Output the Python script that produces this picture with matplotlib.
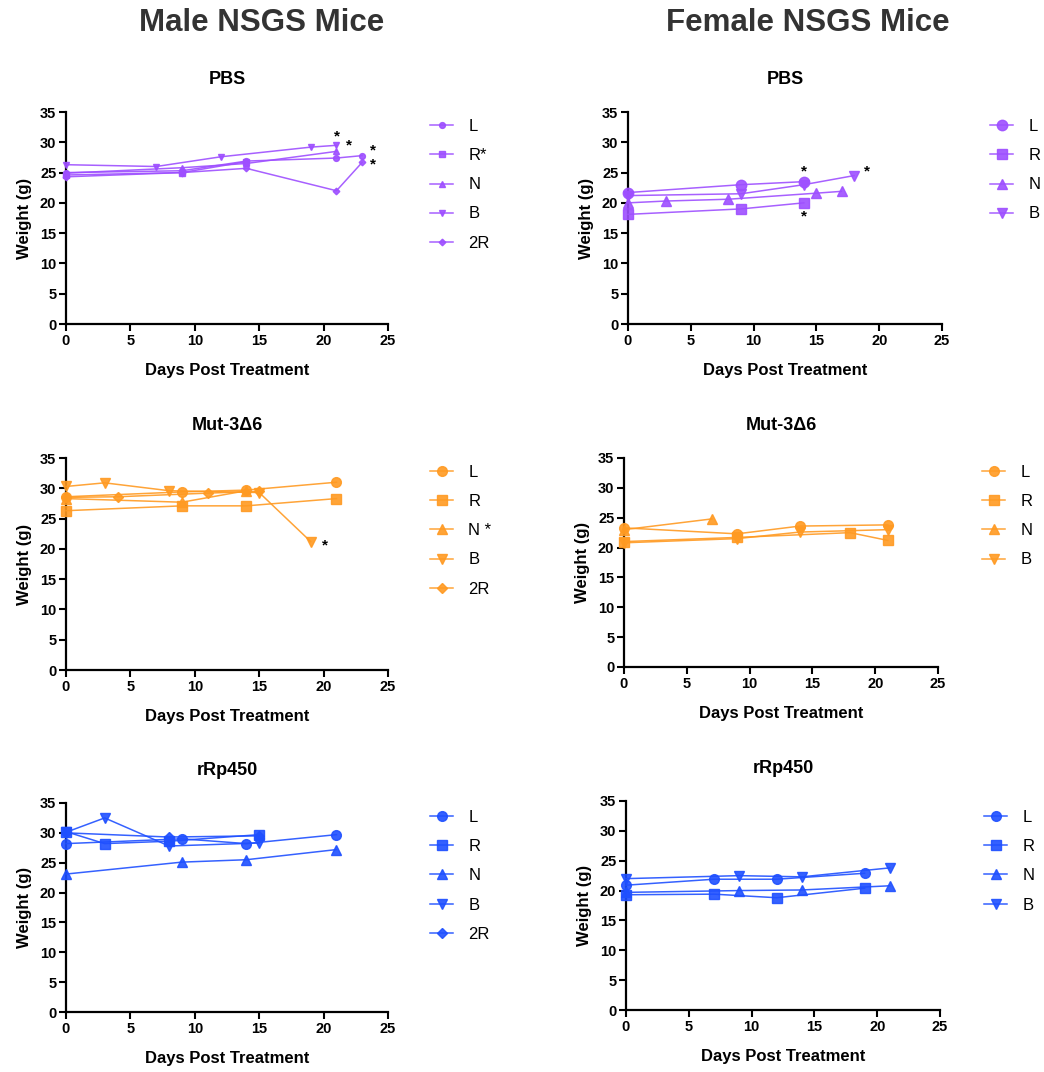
import matplotlib
matplotlib.use("Agg")
import matplotlib.pyplot as plt

plt.rcParams['font.family'] = ['Liberation Sans', 'DejaVu Sans']

W, H = 1044, 1072

PURPLE = '#9E4FFF'
ORANGE = '#FF9A22'
BLUE = '#1F50FF'

markers = ['o', 's', '^', 'v', 'D']

# ---------------- Male PBS ----------------
m_pbs_L_x = [0, 9, 14, 21, 23]
m_pbs_L_y = [25.0, 25.3, 26.9, 27.4, 27.8]
m_pbs_R_x = [0, 9, 14]
m_pbs_R_y = [24.6, 25.0, 26.8]
m_pbs_N_x = [0, 9, 14, 21]
m_pbs_N_y = [24.9, 25.8, 26.5, 28.5]
m_pbs_B_x = [0, 7, 12, 19, 21]
m_pbs_B_y = [26.3, 26.0, 27.6, 29.2, 29.5]
m_pbs_2R_x = [0, 9, 14, 21, 23]
m_pbs_2R_y = [24.3, 25.0, 25.7, 22.0, 26.7]
m_pbs_labels = ['L', 'R*', 'N', 'B', '2R']
m_pbs_star_x = [21, 22.0, 23.8, 23.8]
m_pbs_star_y = [31.0, 29.4, 28.6, 26.4]

# ---------------- Female PBS ----------------
f_pbs_L_x = [0, 9, 14]
f_pbs_L_y = [21.7, 23.0, 23.5]
f_pbs_R_x = [0, 9, 14]
f_pbs_R_y = [18.1, 19.0, 20.0]
f_pbs_N_x = [0, 3, 8, 15, 17]
f_pbs_N_y = [20.0, 20.3, 20.6, 21.6, 21.9]
f_pbs_B_x = [0, 9, 14, 18]
f_pbs_B_y = [21.2, 21.5, 23.0, 24.5]
f_pbs_labels = ['L', 'R', 'N', 'B']
f_pbs_star_x = [14, 19.0, 14]
f_pbs_star_y = [25.1, 25.1, 17.7]

# ---------------- Male Mut-3Δ6 ----------------
m_mut_L_x = [0, 9, 14, 21]
m_mut_L_y = [28.6, 29.4, 29.7, 31.0]
m_mut_R_x = [0, 9, 14, 21]
m_mut_R_y = [26.3, 27.1, 27.1, 28.3]
m_mut_N_x = [0, 9, 14]
m_mut_N_y = [28.3, 27.7, 29.6]
m_mut_B_x = [0, 3, 8, 15, 19]
m_mut_B_y = [30.3, 30.9, 29.6, 29.3, 21.2]
m_mut_2R_x = [0, 4, 11, 15]
m_mut_2R_y = [28.5, 28.6, 29.2, 29.5]
m_mut_labels = ['L', 'R', 'N *', 'B', '2R']
m_mut_star_x = [20.1]
m_mut_star_y = [20.6]

# ---------------- Female Mut-3Δ6 ----------------
f_mut_L_x = [0, 9, 14, 21]
f_mut_L_y = [23.3, 22.3, 23.6, 23.8]
f_mut_R_x = [0, 9, 18, 21]
f_mut_R_y = [21.0, 21.7, 22.5, 21.2]
f_mut_N_x = [0, 7]
f_mut_N_y = [23.0, 24.8]
f_mut_B_x = [0, 9, 14, 21]
f_mut_B_y = [20.8, 21.5, 22.6, 23.0]
f_mut_labels = ['L', 'R', 'N', 'B']

# ---------------- Male rRp450 ----------------
m_rrp_L_x = [0, 9, 14, 21]
m_rrp_L_y = [28.2, 29.0, 28.2, 29.7]
m_rrp_R_x = [0, 3, 8, 15]
m_rrp_R_y = [30.2, 28.2, 28.6, 29.7]
m_rrp_N_x = [0, 9, 14, 21]
m_rrp_N_y = [23.1, 25.1, 25.5, 27.2]
m_rrp_B_x = [0, 3, 8, 15]
m_rrp_B_y = [30.1, 32.5, 27.8, 28.3]
m_rrp_2R_x = [0, 8, 15]
m_rrp_2R_y = [30.0, 29.3, 29.5]
m_rrp_labels = ['L', 'R', 'N', 'B', '2R']

# ---------------- Female rRp450 ----------------
f_rrp_L_x = [0, 7, 12, 19]
f_rrp_L_y = [20.9, 21.9, 21.9, 22.9]
f_rrp_R_x = [0, 7, 12, 19]
f_rrp_R_y = [19.3, 19.4, 18.8, 20.4]
f_rrp_N_x = [0, 9, 14, 21]
f_rrp_N_y = [19.7, 20.0, 20.1, 20.8]
f_rrp_B_x = [0, 9, 14, 21]
f_rrp_B_y = [22.0, 22.5, 22.3, 23.8]
f_rrp_labels = ['L', 'R', 'N', 'B']

fig = plt.figure(figsize=(W / 100, H / 100), dpi=100)


def px_axes(l, t, r, b):
    return fig.add_axes([l / W, 1 - b / H, (r - l) / W, (b - t) / H])


def panel(box, title, series, labels, color, msize, legend_xy, stars=None):
    ax = px_axes(*box)
    handles = []
    for (xs, ys), lab, mk in zip(series, labels, markers):
        ms = msize * (0.8 if mk == 'D' else 1.0)
        if mk in ('^', 'v'):
            ms = msize * 0.95
        h, = ax.plot(xs, ys, color=color, lw=1.1, marker=mk, ms=ms,
                     mec=color, mfc=color, alpha=0.9, clip_on=False, zorder=3)
        handles.append(h)
    ax.set_xlim(0, 25)
    ax.set_ylim(0, 35)
    ax.set_xticks(range(0, 26, 5))
    ax.set_yticks(range(0, 36, 5))
    for s in ('top', 'right'):
        ax.spines[s].set_visible(False)
    for s in ('left', 'bottom'):
        ax.spines[s].set_linewidth(1.6)
    ax.tick_params(direction='out', length=5, width=1.5, labelsize=10.5, pad=2)
    for t in ax.get_xticklabels() + ax.get_yticklabels():
        t.set_fontweight('bold')
    ax.set_xlabel('Days Post Treatment', fontsize=12, fontweight='bold', labelpad=11)
    ax.set_ylabel('Weight (g)', fontsize=12, fontweight='bold', labelpad=6)
    ax.set_title(title, fontsize=13, fontweight='bold', pad=20)
    if stars:
        for sx, sy in zip(*stars):
            ax.text(sx, sy, '*', fontsize=11, fontweight='bold', ha='center',
                    va='center', color='black', clip_on=False)
    ax.legend(handles, labels, loc='upper left',
              bbox_to_anchor=(legend_xy[0] / W, 1 - legend_xy[1] / H),
              bbox_transform=fig.transFigure, frameon=False, fontsize=12,
              handlelength=1.4, handletextpad=0.9, labelspacing=0.85,
              borderaxespad=0, borderpad=0, markerscale=1.0)
    return ax


panel((66, 112, 388, 324), 'PBS',
      [(m_pbs_L_x, m_pbs_L_y), (m_pbs_R_x, m_pbs_R_y), (m_pbs_N_x, m_pbs_N_y),
       (m_pbs_B_x, m_pbs_B_y), (m_pbs_2R_x, m_pbs_2R_y)],
      m_pbs_labels, PURPLE, 4.2, (430, 119), (m_pbs_star_x, m_pbs_star_y))

panel((628, 112, 942, 324), 'PBS',
      [(f_pbs_L_x, f_pbs_L_y), (f_pbs_R_x, f_pbs_R_y), (f_pbs_N_x, f_pbs_N_y),
       (f_pbs_B_x, f_pbs_B_y)],
      f_pbs_labels, PURPLE, 7.5, (990, 119), (f_pbs_star_x, f_pbs_star_y))

panel((66, 458, 388, 670), 'Mut-3Δ6',
      [(m_mut_L_x, m_mut_L_y), (m_mut_R_x, m_mut_R_y), (m_mut_N_x, m_mut_N_y),
       (m_mut_B_x, m_mut_B_y), (m_mut_2R_x, m_mut_2R_y)],
      m_mut_labels, ORANGE, 7, (430, 465), (m_mut_star_x, m_mut_star_y))

panel((624, 458, 938, 667), 'Mut-3Δ6',
      [(f_mut_L_x, f_mut_L_y), (f_mut_R_x, f_mut_R_y), (f_mut_N_x, f_mut_N_y),
       (f_mut_B_x, f_mut_B_y)],
      f_mut_labels, ORANGE, 7, (982, 465))

panel((66, 803, 388, 1012), 'rRp450',
      [(m_rrp_L_x, m_rrp_L_y), (m_rrp_R_x, m_rrp_R_y), (m_rrp_N_x, m_rrp_N_y),
       (m_rrp_B_x, m_rrp_B_y), (m_rrp_2R_x, m_rrp_2R_y)],
      m_rrp_labels, BLUE, 7, (430, 810))

panel((626, 801, 940, 1010), 'rRp450',
      [(f_rrp_L_x, f_rrp_L_y), (f_rrp_R_x, f_rrp_R_y), (f_rrp_N_x, f_rrp_N_y),
       (f_rrp_B_x, f_rrp_B_y)],
      f_rrp_labels, BLUE, 7, (984, 810))

fig.text(262 / W, 1 - 23 / H, 'Male NSGS Mice', fontsize=22.5, fontweight='bold',
         ha='center', va='center', color='#333333')
fig.text(808 / W, 1 - 23 / H, 'Female NSGS Mice', fontsize=22.5, fontweight='bold',
         ha='center', va='center', color='#333333')

fig.savefig('out.png', dpi=100)
